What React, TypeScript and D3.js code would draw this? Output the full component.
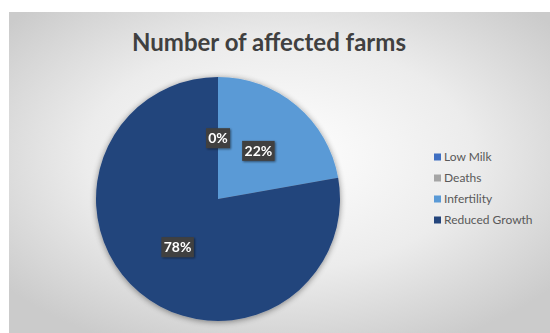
import React from "react";
import * as d3 from "d3";

const categories = ["Low Milk", "Deaths", "Infertility", "Reduced Growth"];
const values = [0, 0, 2, 7];
const colors = ["#3f6fc2", "#a5a5a5", "#5a9ad6", "#24457c"];
const title = "Number of affected farms";

const W = 550;
const H = 333;

export default function App() {
  const cx = 218;
  const cy = 199;
  const r = 122;
  const total = d3.sum(values);
  const pie = d3.pie<number>().sort(null).value((d) => d)(values);
  const arc = d3.arc<d3.PieArcDatum<number>>().innerRadius(0).outerRadius(r);
  const labelArc = d3
    .arc<d3.PieArcDatum<number>>()
    .innerRadius(r * 0.515)
    .outerRadius(r * 0.515);
  const fmt = (v: number) => `${Math.round((v / total) * 100)}%`;

  const shownLabels = [0, 2, 3];
  const legendY = d3.scalePoint<string>().domain(categories).range([157, 220]);

  return (
    <svg
      width={W}
      height={H}
      style={{ position: "absolute", left: 0, top: 0, display: "block" }}
    >
      <defs>
        <radialGradient id="bg" cx="50%" cy="45%" r="65%">
          <stop offset="0%" stopColor="#ffffff" />
          <stop offset="55%" stopColor="#ececec" />
          <stop offset="100%" stopColor="#cbcbcb" />
        </radialGradient>
        <filter id="sh" x="-20%" y="-20%" width="140%" height="140%">
          <feGaussianBlur in="SourceAlpha" stdDeviation="3" />
          <feOffset dx="0" dy="1" result="b" />
          <feComponentTransfer>
            <feFuncA type="linear" slope="0.45" />
          </feComponentTransfer>
          <feMerge>
            <feMergeNode />
            <feMergeNode in="SourceGraphic" />
          </feMerge>
        </filter>
        <filter id="lsh" x="-20%" y="-30%" width="140%" height="160%">
          <feGaussianBlur in="SourceAlpha" stdDeviation="1.2" />
          <feOffset dx="1" dy="1" />
          <feComponentTransfer>
            <feFuncA type="linear" slope="0.5" />
          </feComponentTransfer>
          <feMerge>
            <feMergeNode />
            <feMergeNode in="SourceGraphic" />
          </feMerge>
        </filter>
      </defs>
      <rect x={0} y={0} width={W} height={H} fill="#ffffff" />
      <rect x={9} y={12} width={W - 9} height={H - 12} fill="url(#bg)" />
      <text
        x={269}
        y={51}
        textAnchor="middle"
        fontFamily="Lato, 'Open Sans', sans-serif"
        fontWeight={700}
        fontSize={24}
        fill="#404040"
      >
        {title}
      </text>
      <g transform={`translate(${cx},${cy})`} filter="url(#sh)">
        {pie.map((a, i) => (
          <path key={categories[i]} d={arc(a) || ""} fill={colors[i]} />
        ))}
      </g>
      {shownLabels.map((i) => {
        const c = labelArc.centroid(pie[i]);
        const x = cx + c[0];
        const y = cy + c[1] + (values[i] === 0 ? 2 : 0);
        const t = fmt(values[i]);
        const w = t.length * 8.5 + 7;
        return (
          <g key={"l" + i} filter="url(#lsh)">
            <rect x={x - w / 2} y={y - 10} width={w} height={20} fill="#404040" />
            <text
              x={x}
              y={y + 5}
              textAnchor="middle"
              fontFamily="Lato, 'Open Sans', sans-serif"
              fontWeight={700}
              fontSize={14}
              fill="#ffffff"
            >
              {t}
            </text>
          </g>
        );
      })}
      {categories.map((c, i) => {
        const y = legendY(c) as number;
        return (
          <g key={"lg" + c}>
            <rect x={434} y={y - 3.5} width={7} height={7} fill={colors[i]} />
            <text
              x={444}
              y={y + 4}
              fontFamily="Lato, 'Open Sans', sans-serif"
              fontSize={12}
              fill="#595959"
            >
              {c}
            </text>
          </g>
        );
      })}
    </svg>
  );
}
